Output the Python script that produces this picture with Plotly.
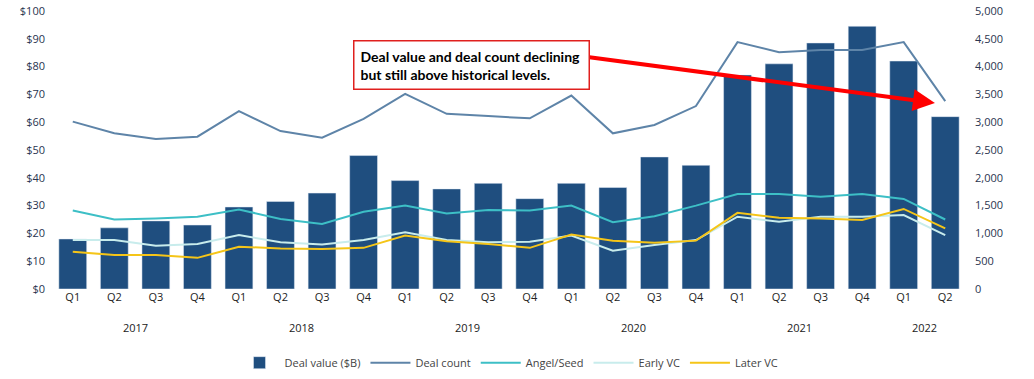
import plotly.graph_objects as go

quarters = ["Q1", "Q2", "Q3", "Q4"] * 5 + ["Q1", "Q2"]
years = ["2017", "2018", "2019", "2020", "2021", "2022"]
deal_value = [18, 22, 24.5, 23, 29.5, 31.5, 34.5, 48, 39, 36, 38, 32.5,
              38, 36.5, 47.5, 44.5, 77, 81, 88.5, 94.5, 82, 62]
deal_count = [3010, 2800, 2700, 2740, 3200, 2840, 2720, 3060, 3510, 3150, 3110, 3070,
              3480, 2800, 2950, 3290, 4440, 4260, 4300, 4300, 4440, 3380]
angel_seed = [1410, 1250, 1270, 1300, 1430, 1260, 1170, 1390, 1500, 1360, 1420, 1410,
              1500, 1200, 1310, 1500, 1710, 1710, 1660, 1710, 1620, 1250]
early_vc = [880, 880, 780, 810, 970, 840, 800, 880, 1020, 880, 840, 850,
            960, 690, 790, 880, 1300, 1210, 1300, 1300, 1330, 970]
later_vc = [670, 610, 610, 560, 760, 730, 720, 740, 960, 860, 810, 740,
            980, 870, 830, 870, 1370, 1280, 1270, 1240, 1440, 1090]

x = list(range(len(quarters)))
font_main = "Open Sans"

fig = go.Figure()
fig.add_trace(go.Bar(x=x, y=deal_value, name="Deal value ($B)", marker_color="#1F4E7F",
                     width=0.67, yaxis="y"))
fig.add_trace(go.Scatter(x=x, y=deal_count, name="Deal count", mode="lines",
                         line=dict(color="#5E84A8", width=2), yaxis="y2"))
fig.add_trace(go.Scatter(x=x, y=angel_seed, name="Angel/Seed", mode="lines",
                         line=dict(color="#3DBFC6", width=2), yaxis="y2"))
fig.add_trace(go.Scatter(x=x, y=early_vc, name="Early VC", mode="lines",
                         line=dict(color="#C8ECEC", width=2), yaxis="y2"))
fig.add_trace(go.Scatter(x=x, y=later_vc, name="Later VC", mode="lines",
                         line=dict(color="#F5C518", width=2), yaxis="y2"))

annotations = []
for i, yr in enumerate(years):
    idx = [j for j in range(len(quarters)) if j // 4 == i]
    mid = (idx[0] + idx[-1]) / 2
    annotations.append(dict(x=mid, xref="x", y=-0.14, yref="paper", text=yr,
                            showarrow=False, yanchor="middle",
                            font=dict(family=font_main, size=11, color="#222222")))

annotations.append(dict(
    x=0.966, y=0.669, xref="paper", yref="paper", ax=-347, ay=-46,
    showarrow=True, arrowhead=2, arrowsize=1.1, arrowwidth=4, arrowcolor="#FF0000",
    text=""))
annotations.append(dict(
    x=0.4595, y=0.896, xref="paper", yref="paper",
    text="<b>Deal value and deal count declining<br>but still above historical levels.</b>",
    showarrow=False, align="left", bgcolor="white", bordercolor="#E0201E",
    borderwidth=1.5, borderpad=6, width=222,
    font=dict(family="Lato", size=14, color="#000000")))

fig.update_layout(
    width=1034, height=379,
    margin=dict(l=52, r=68, t=11, b=90, autoexpand=False),
    plot_bgcolor="white", paper_bgcolor="white",
    bargap=0.33,
    xaxis=dict(tickmode="array", tickvals=x, ticktext=quarters, range=[-0.5, 21.5],
               showgrid=False, zeroline=False, showline=False, ticks="", automargin=False,
               tickfont=dict(family=font_main, size=11, color="#222222")),
    yaxis=dict(range=[0, 100], dtick=10, tickprefix="$", showgrid=False, zeroline=False,
               automargin=False, ticklabelstandoff=6,
               tickfont=dict(family=font_main, size=11, color="#2A3550")),
    yaxis2=dict(range=[0, 5000], dtick=500, overlaying="y", side="right", showgrid=False,
                zeroline=False, tickformat=",", ticklabelstandoff=8, automargin=False,
                tickfont=dict(family=font_main, size=11, color="#2A3550")),
    legend=dict(orientation="h", x=0.5, xanchor="center", y=-0.265, yanchor="middle",
                font=dict(family=font_main, size=11, color="#444444"),
                itemwidth=40, tracegroupgap=0),
    annotations=annotations,
    showlegend=True,
)

fig.write_html("out.html", config={"displayModeBar": False},
               post_script="document.body.style.margin='0';document.body.style.overflow='hidden';")
